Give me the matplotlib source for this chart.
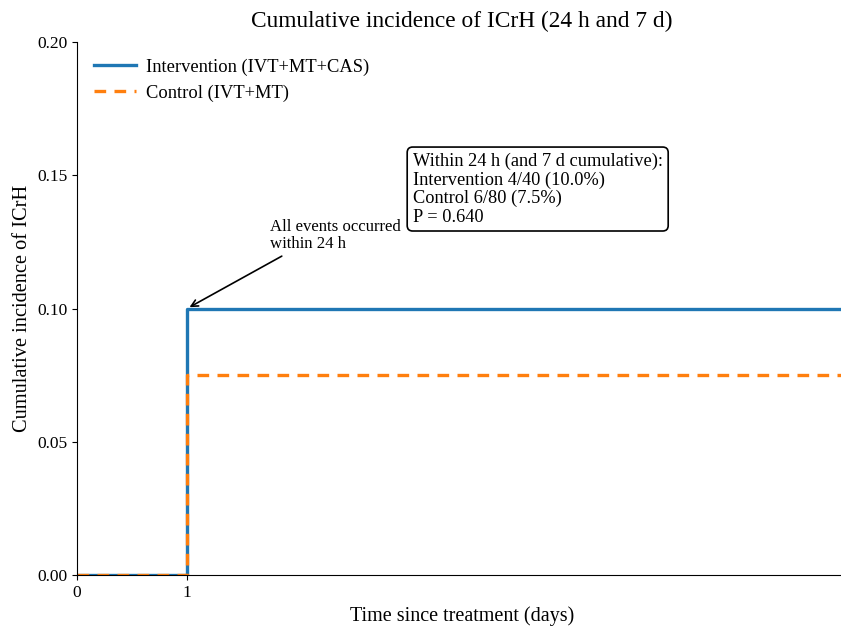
import matplotlib.pyplot as plt

plt.rcParams['font.family'] = ['Liberation Serif', 'DejaVu Serif']
plt.rcParams['mathtext.fontset'] = 'stix'

# step data (days, cumulative incidence)
time_days = [0, 1, 7]
intervention_inc = [0.0, 0.10, 0.10]
control_inc = [0.0, 0.075, 0.075]
x_ticks = [0, 1, 7]
y_ticks = [0.00, 0.05, 0.10, 0.15, 0.20]

fig = plt.figure(figsize=(8.41, 6.3), dpi=100)
ax = fig.add_axes([0.0916, 0.0873, 0.916, 0.846])

ax.step(time_days, intervention_inc, where='post', color='#1f77b4', lw=2.4,
        label='Intervention (IVT+MT+CAS)')
ax.step(time_days, control_inc, where='post', color='#ff7f0e', lw=2.4,
        linestyle=(0, (3.5, 2.5)), label='Control (IVT+MT)')

ax.set_xlim(0, 7)
ax.set_ylim(0, 0.20)
ax.set_xticks(x_ticks)
ax.set_yticks(y_ticks)
ax.set_yticklabels([f'{v:.2f}' for v in y_ticks])
ax.tick_params(labelsize=12.5)
ax.spines['top'].set_visible(False)
ax.spines['right'].set_visible(False)

ax.set_title('Cumulative incidence of ICrH (24 h and 7 d)', fontsize=16.8, pad=11)
ax.set_xlabel('Time since treatment (days)', fontsize=14.5)
ax.set_ylabel('Cumulative incidence of ICrH', fontsize=14.7)

ax.legend(loc='upper left', frameon=False, fontsize=13.3,
          bbox_to_anchor=(0.0, 1.0), handlelength=2.3, handletextpad=0.55,
          labelspacing=0.45)

ax.annotate('All events occurred\nwithin 24 h', xy=(1, 0.10), xytext=(1.75, 0.1212),
            fontsize=12.1, ha='left', va='bottom', linespacing=1.05,
            arrowprops=dict(arrowstyle='->', color='black', lw=1.2,
                            relpos=(0.15, 0.0)))

ax.text(3.05, 0.1585,
        'Within 24 h (and 7 d cumulative):\nIntervention 4/40 (10.0%)\nControl 6/80 (7.5%)\nP = 0.640',
        fontsize=13.2, ha='left', va='top', linespacing=1.1,
        bbox=dict(boxstyle='round,pad=0.3', facecolor='white', edgecolor='black', lw=1.2))

fig.savefig('out.png', dpi=100)
